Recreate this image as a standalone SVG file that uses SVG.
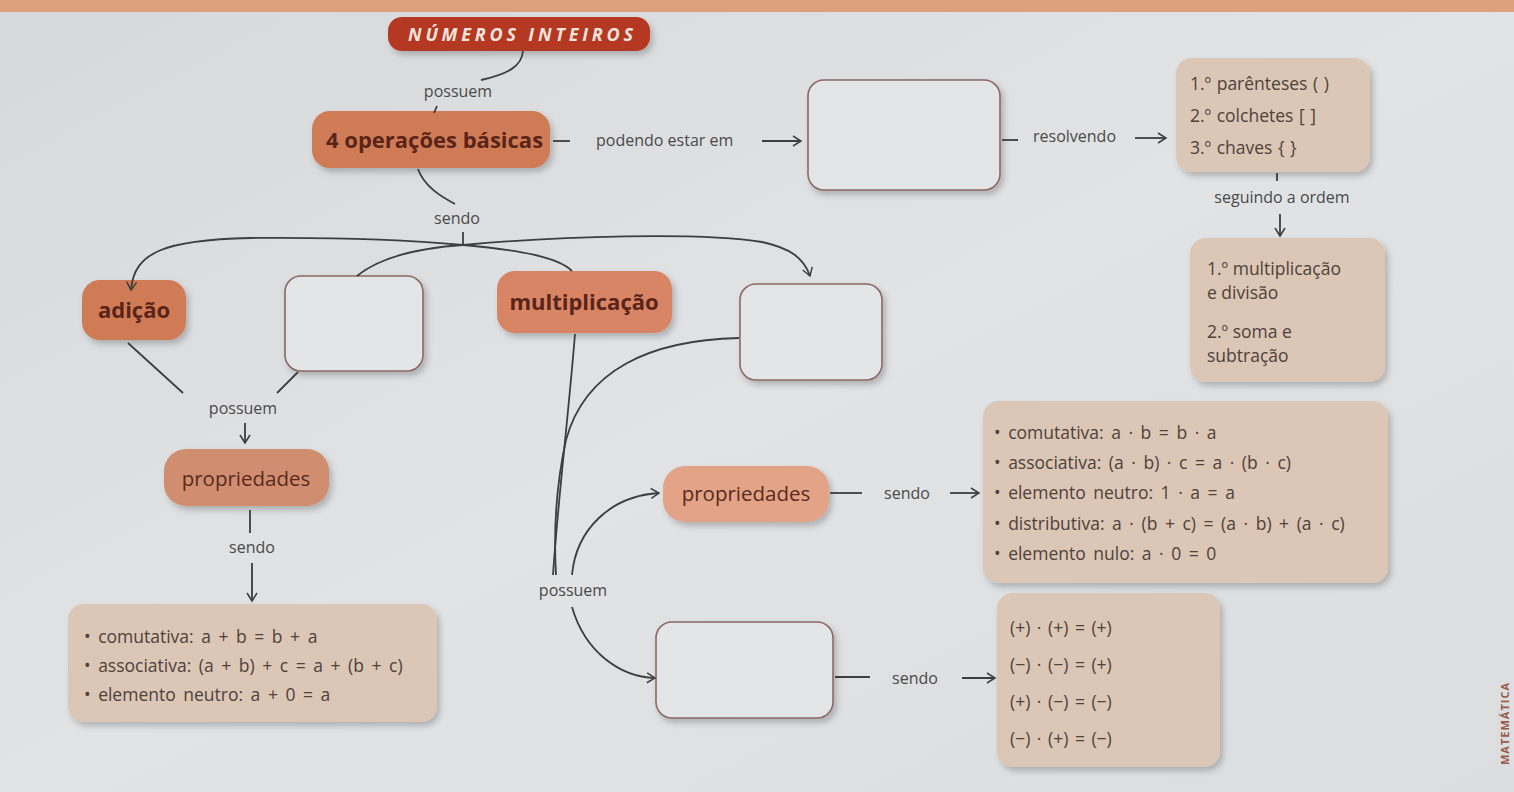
<svg xmlns="http://www.w3.org/2000/svg" width="1514" height="792" viewBox="0 0 1514 792">
<defs>
<linearGradient id="bg" x1="0" y1="0" x2="1" y2="1">
<stop offset="0" stop-color="#d6d8db"/>
<stop offset="0.5" stop-color="#e1e3e5"/>
<stop offset="1" stop-color="#dcdddf"/>
</linearGradient>
<filter id="sh" x="-10%" y="-10%" width="130%" height="140%">
<feDropShadow dx="3" dy="4" stdDeviation="3" flood-color="#000" flood-opacity="0.22"/>
</filter>
<marker id="arr" viewBox="0 0 12 12" refX="10" refY="6" markerWidth="12" markerHeight="12" markerUnits="userSpaceOnUse" orient="auto-start-reverse">
<path d="M2,1 L10,6 L2,11" fill="none" stroke="#3e3e3e" stroke-width="1.5"/>
</marker>
</defs>
<style>
.lbl{font-family:"Open Sans","Liberation Sans",sans-serif;font-size:16px;fill:#4a4a4a}
.bold{font-family:"Open Sans","Liberation Sans",sans-serif;font-weight:bold;font-size:22px;fill:#5a2418}
.prop{font-family:"Open Sans","Liberation Sans",sans-serif;font-size:20.5px;fill:#5a2a1e}
.bt{font-family:"Open Sans","Liberation Sans",sans-serif;font-size:17.5px;fill:#4e423c}
.conn path{fill:none;stroke:#3e3e3e;stroke-width:1.8}
.orange{fill:#cf7b57}
.lorange{fill:#e2a386}
.beige{fill:#dcc6b5}
.blank{fill:#e4e5e7;stroke:#8a6a62;stroke-width:1.6}
</style>
<rect x="0" y="0" width="1514" height="792" fill="url(#bg)"/>
<rect x="0" y="0" width="1514" height="12" fill="#dca07c"/>

<g id="title">
<rect x="388" y="17" width="262" height="34" rx="14" fill="#b43924" filter="url(#sh)"/>
<text x="408" y="41" textLength="225" lengthAdjust="spacing" font-family="'Open Sans','Liberation Sans',sans-serif" font-weight="bold" font-style="italic" font-size="18" fill="#f3e4de">NÚMEROS INTEIROS</text>
</g>

<g id="operacoes">
<rect x="312" y="111" width="238" height="57" rx="18" class="orange" filter="url(#sh)"/>
<text x="326" y="148" class="bold">4 operações básicas</text>
</g>

<g id="blank-top">
<rect x="808" y="80" width="192" height="110" rx="16" class="blank" filter="url(#sh)"/>
</g>

<g id="ordem-sinais">
<rect x="1176" y="58" width="194" height="114" rx="16" class="beige" filter="url(#sh)"/>
<text x="1190" y="90" class="bt" word-spacing="1">1.º parênteses ( )</text>
<text x="1190" y="122" class="bt" word-spacing="1">2.º colchetes [ ]</text>
<text x="1190" y="154" class="bt" word-spacing="1">3.º chaves { }</text>
</g>

<g id="ordem-operacoes">
<rect x="1190" y="238" width="195" height="144" rx="16" class="beige" filter="url(#sh)"/>
<text x="1207" y="275" class="bt" font-size="19.5">1.º multiplicação</text>
<text x="1207" y="299" class="bt" font-size="19.5">e divisão</text>
<text x="1207" y="338" class="bt" font-size="19.5">2.º soma e</text>
<text x="1207" y="362" class="bt" font-size="19.5">subtração</text>
</g>

<g id="adicao">
<rect x="82" y="280" width="104" height="60" rx="18" class="orange" filter="url(#sh)"/>
<text x="134" y="318" text-anchor="middle" class="bold">adição</text>
</g>

<g id="blank-2">
<rect x="285" y="276" width="138" height="95" rx="16" class="blank" filter="url(#sh)"/>
</g>

<g id="multiplicacao">
<rect x="497" y="271" width="175" height="62" rx="18" class="orange" filter="url(#sh)" style="fill:#d78565"/>
<text x="584" y="310" text-anchor="middle" class="bold">multiplicação</text>
</g>

<g id="blank-3">
<rect x="740" y="284" width="142" height="96" rx="16" class="blank" filter="url(#sh)"/>
</g>

<g id="propriedades-adicao">
<rect x="164" y="449" width="165" height="57" rx="22" fill="#d08d70" filter="url(#sh)"/>
<text x="246" y="486" text-anchor="middle" class="prop">propriedades</text>
</g>

<g id="props-adicao">
<rect x="68" y="604" width="369" height="118" rx="16" class="beige" filter="url(#sh)"/>
<text x="84" y="643" class="bt" font-size="20" word-spacing="3">• comutativa: a + b = b + a</text>
<text x="84" y="672" class="bt" font-size="20" word-spacing="3">• associativa:  (a + b) + c = a + (b + c)</text>
<text x="84" y="701" class="bt" font-size="20" word-spacing="3">• elemento neutro: a + 0 = a</text>
</g>

<g id="propriedades-mult">
<rect x="663" y="466" width="166" height="56" rx="22" class="lorange" filter="url(#sh)"/>
<text x="746" y="501" text-anchor="middle" class="prop">propriedades</text>
</g>

<g id="props-mult">
<rect x="983" y="401" width="405" height="182" rx="16" class="beige" filter="url(#sh)"/>
<text x="994" y="439" class="bt" font-size="19" word-spacing="3">• comutativa: a · b = b · a</text>
<text x="994" y="469" class="bt" font-size="19" word-spacing="3">• associativa: (a · b) · c = a · (b · c)</text>
<text x="994" y="499" class="bt" font-size="19" word-spacing="3">• elemento neutro: 1 · a = a</text>
<text x="994" y="530" class="bt" font-size="19" word-spacing="3">• distributiva: a · (b + c) = (a · b) + (a · c)</text>
<text x="994" y="560" class="bt" font-size="19" word-spacing="3">• elemento nulo: a · 0 = 0</text>
</g>

<g id="blank-4">
<rect x="656" y="622" width="177" height="96" rx="16" class="blank" filter="url(#sh)"/>
</g>

<g id="regras-sinais">
<rect x="997" y="593" width="223" height="174" rx="16" class="beige" filter="url(#sh)"/>
<text x="1010" y="634" class="bt" font-size="21" word-spacing="2">(+) · (+) = (+)</text>
<text x="1010" y="671" class="bt" font-size="21" word-spacing="2">(−) · (−) = (+)</text>
<text x="1010" y="708" class="bt" font-size="21" word-spacing="2">(+) · (−) = (−)</text>
<text x="1010" y="745" class="bt" font-size="21" word-spacing="2">(−) · (+) = (−)</text>
</g>

<g id="connectors" class="conn">
<path d="M523,51 C522,66 508,74 481,80"/>
<path d="M437,106 L434,113"/>
<path d="M553,141 L570,141"/>
<path d="M762,141 L801,141" marker-end="url(#arr)"/>
<path d="M1002,140 L1018,140"/>
<path d="M1135,138 L1166,138" marker-end="url(#arr)"/>
<path d="M1277,173 L1277,181"/>
<path d="M1280,214 L1280,236" marker-end="url(#arr)"/>
<path d="M418,169 C424,186 440,196 455,204"/>
<path d="M463,232 L463,245"/>
<path d="M131,290 C134,252 165,240 250,238 C350,237 420,241 463,245 C520,250 558,257 572,271" marker-start="url(#arr)"/>
<path d="M357,276 C380,257 420,248 463,245 C560,236 700,232 762,242 C790,248 804,258 810,276" marker-end="url(#arr)"/>
<path d="M128,343 L183,393"/>
<path d="M298,372 L277,393"/>
<path d="M245,423 L245,443" marker-end="url(#arr)"/>
<path d="M250,510 L250,533"/>
<path d="M252,563 L252,601" marker-end="url(#arr)"/>
<path d="M575,334 C568,420 558,500 553,575"/>
<path d="M739,338 C650,340 585,370 566,440 C555,490 554,540 556,575"/>
<path d="M572,575 C576,530 610,496 659,493" marker-end="url(#arr)"/>
<path d="M572,607 C585,652 620,677 655,678" marker-end="url(#arr)"/>
<path d="M830,493 L862,493"/>
<path d="M950,493 L979,493" marker-end="url(#arr)"/>
<path d="M835,677 L870,677"/>
<path d="M962,678 L995,678" marker-end="url(#arr)"/>
</g>

<g id="labels">
<text x="458" y="97" text-anchor="middle" class="lbl">possuem</text>
<text x="596" y="146" class="lbl">podendo estar em</text>
<text x="1033" y="142" class="lbl">resolvendo</text>
<text x="1282" y="203" text-anchor="middle" class="lbl" font-size="16.5">seguindo a ordem</text>
<text x="457" y="224" text-anchor="middle" class="lbl">sendo</text>
<text x="243" y="414" text-anchor="middle" class="lbl">possuem</text>
<text x="252" y="553" text-anchor="middle" class="lbl">sendo</text>
<text x="573" y="596" text-anchor="middle" class="lbl">possuem</text>
<text x="907" y="499" text-anchor="middle" class="lbl" font-size="15">sendo</text>
<text x="915" y="684" text-anchor="middle" class="lbl" font-size="15">sendo</text>
</g>

<text x="1509" y="765" transform="rotate(-90 1509 765)" font-family="'Open Sans','Liberation Sans',sans-serif" font-weight="bold" font-size="11" letter-spacing="1" fill="#9a5a48">MATEMÁTICA</text>
</svg>
